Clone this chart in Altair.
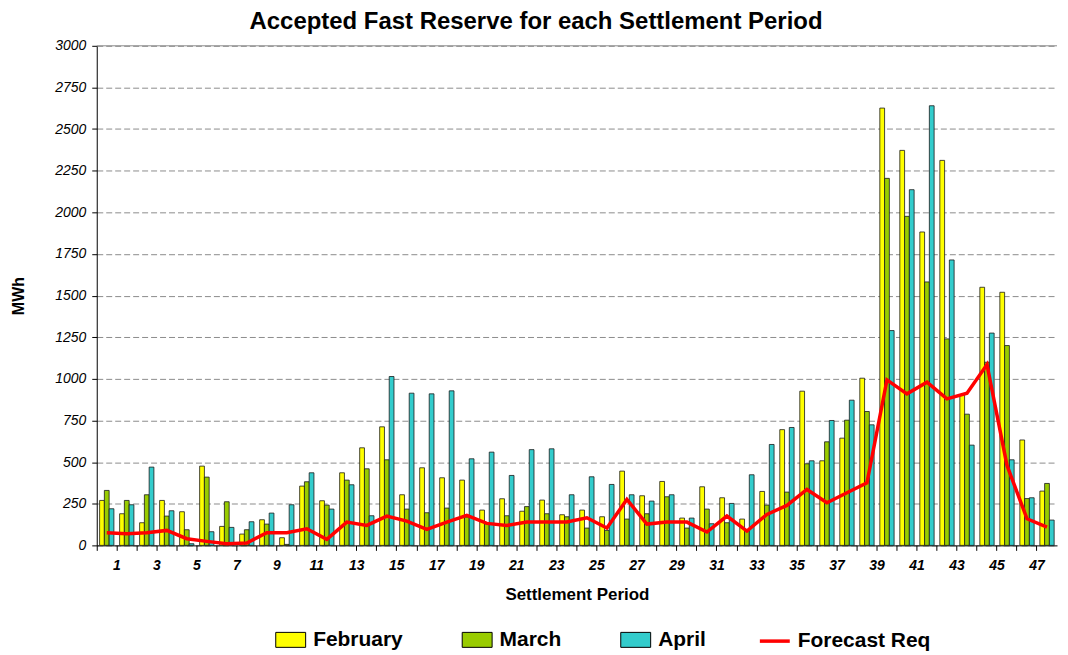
import altair as alt
import pandas as pd

periods = list(range(1, 49))
months = ["February", "March", "April"]
month_colors = ["#FFFF00", "#99CC00", "#33CCCC"]

feb = [270, 190, 136, 270, 202, 476, 114, 68, 154, 46, 356, 268, 436, 586, 712, 304,
       466, 406, 392, 212, 280, 205, 272, 184, 212, 172, 446, 298, 384, 164, 352, 286,
       158, 324, 695, 926, 508, 644, 1004, 2626, 2372, 1882, 2312, 906, 1550, 1520, 633, 326]
mar = [330, 270, 304, 176, 94, 410, 262, 94, 128, 6, 382, 242, 392, 460, 514, 218,
       196, 224, 170, 130, 178, 233, 190, 172, 104, 90, 158, 190, 292, 104, 218, 136,
       95, 242, 320, 490, 622, 752, 804, 2204, 1976, 1582, 1240, 788, 1100, 1200, 281, 372]
apr = [220, 244, 470, 208, 10, 82, 108, 142, 194, 244, 436, 218, 364, 178, 1014, 914,
       910, 928, 520, 560, 420, 575, 580, 304, 412, 366, 304, 266, 304, 164, 130, 252,
       424, 606, 708, 508, 750, 872, 724, 1290, 2136, 2640, 1714, 602, 1275, 514, 286, 152]
forecast = [76, 70, 76, 90, 40, 24, 10, 14, 76, 76, 100, 36, 140, 120, 176, 146,
            96, 140, 180, 132, 120, 140, 140, 140, 166, 104, 276, 128, 140, 140, 80, 176,
            86, 186, 240, 336, 256, 316, 376, 994, 910, 980, 880, 914, 1086, 480, 160, 110]
y_ticks = list(range(0, 3001, 250))

rows = []
for m, vals in zip(months, [feb, mar, apr]):
    for p, v in zip(periods, vals):
        rows.append({"period": p, "month": m, "value": v})
bars_df = pd.DataFrame(rows)
line_df = pd.DataFrame({"period": periods, "value": forecast,
                        "series": ["Forecast Req"] * len(periods)})
top_df = pd.DataFrame({"v": [3000]})

FONT = "Liberation Sans"
W, H = 963, 501
step = W / len(periods)

x_axis = alt.Axis(
    title="Settlement Period", bandPosition=0, labelOffset=step / 2,
    labelExpr="datum.value % 2 == 1 ? datum.label : ''", labelAngle=0,
    labelOverlap=False, labelFont=FONT, labelFontSize=14, labelFontWeight="bold",
    labelFontStyle="italic", labelColor="#000", labelPadding=8, tickSize=5,
    tickColor="#000", domainColor="#000", grid=False, titleFont=FONT,
    titleFontSize=17, titleFontWeight="bold", titleColor="#000", titlePadding=14,
)
x_enc = alt.X("period:O", scale=alt.Scale(paddingInner=0, paddingOuter=0), axis=x_axis)

y_axis = alt.Axis(
    title="MWh", values=y_ticks, format="d", labelFont=FONT, labelFontSize=14,
    labelFontStyle="italic", labelColor="#000", labelPadding=6, tickSize=5,
    tickColor="#000", domainColor="#000", grid=True, gridDash=[6, 3],
    gridColor="#8c8c8c", gridWidth=1, titleFont=FONT, titleFontSize=16,
    titleFontWeight="bold", titleColor="#000", titlePadding=28,
)
y_scale = alt.Scale(domain=[0, 3000], nice=False)

top_rule = alt.Chart(top_df).mark_rule(color="#8c8c8c", strokeWidth=1).encode(
    y=alt.Y("v:Q", scale=y_scale, axis=y_axis)
)

bars = alt.Chart(bars_df).mark_bar(stroke="#1a1a1a", strokeWidth=0.8).encode(
    x=x_enc,
    xOffset=alt.XOffset("month:N", sort=months,
                        scale=alt.Scale(domain=months, paddingOuter=0.6, paddingInner=0)),
    y=alt.Y("value:Q", scale=y_scale, axis=y_axis),
    fill=alt.Fill("month:N", sort=months,
                  scale=alt.Scale(domain=months, range=month_colors),
                  legend=alt.Legend(
                      title=None, orient="none", legendX=179, legendY=580,
                      direction="horizontal", symbolType="M-1,-0.5H1V0.5H-1Z",
                      symbolSize=900, symbolStrokeColor="#000", symbolStrokeWidth=1,
                      symbolOpacity=1, labelFont=FONT, labelFontSize=21,
                      labelFontWeight="bold", labelColor="#000", columnPadding=57,
                      labelOffset=7)),
)

line = alt.Chart(line_df).mark_line(strokeWidth=3.5).encode(
    x=x_enc,
    y=alt.Y("value:Q", scale=y_scale, axis=y_axis),
    stroke=alt.Stroke("series:N",
                      scale=alt.Scale(domain=["Forecast Req"], range=["#FF0000"]),
                      legend=alt.Legend(
                          title=None, orient="none", legendX=663, legendY=580,
                          symbolType="stroke", symbolSize=900, symbolStrokeWidth=3.5,
                          labelFont=FONT, labelFontSize=21, labelFontWeight="bold",
                          labelColor="#000", labelOffset=6)),
)

chart = alt.layer(top_rule, bars, line).resolve_scale(
    fill="independent", stroke="independent"
).properties(
    width=W, height=H,
    autosize=alt.AutoSizeParams(type="none"),
    padding={"left": 89, "top": 37, "right": 3, "bottom": 107},
    title=alt.Title("Accepted Fast Reserve for each Settlement Period", font=FONT,
                    fontSize=24, fontWeight="bold", color="#000", offset=5,
                    anchor="middle", dx=-41),
).configure_view(stroke=None)

chart.save("out.html", embed_options={"renderer": "svg", "actions": False})
